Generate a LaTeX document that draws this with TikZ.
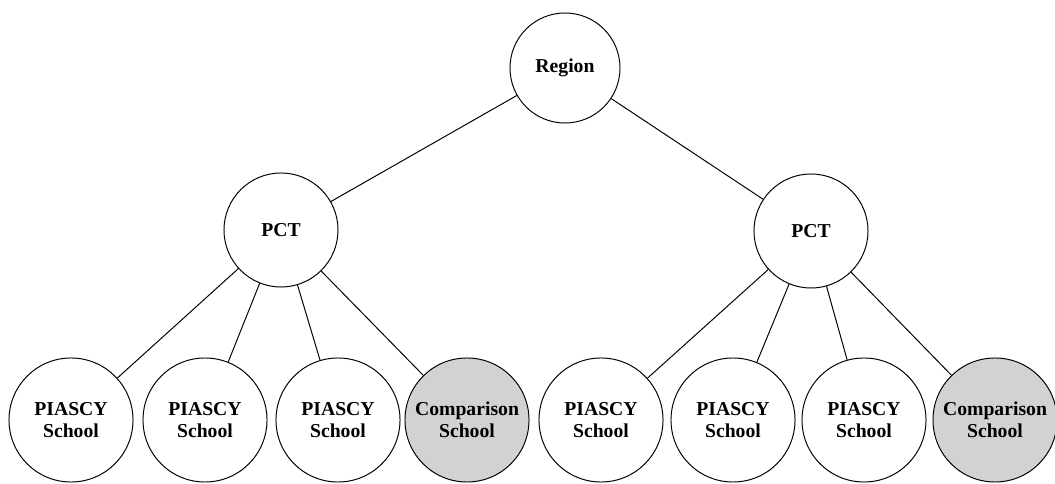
\documentclass[tikz,border=0pt]{standalone}
\usepackage{fontspec}
\setmainfont{Liberation Serif}
\usetikzlibrary{positioning}

\begin{document}
\begin{tikzpicture}[x=0.025cm, y=-0.025cm, line width=0.7pt,
  bubble/.style={draw, circle, inner sep=0pt, align=center, font=\bfseries\fontsize{14}{15.6}\selectfont},
  school/.style={bubble, minimum size=3.1cm},
  comparison/.style={school, fill=gray!35}]

\useasboundingbox (0,0) rectangle (1055,484);

% Draw the region and the PCTs
\node[bubble, minimum size=2.75cm] (region) at (565,68) {Region};
\node[bubble, minimum size=2.85cm] (pctL) at (281,230) {PCT};
\node[bubble, minimum size=2.85cm] (pctR) at (811,231) {PCT};

% Draw the schools
\foreach \x/\name in {71/s1, 205/s2, 338/s3, 601/s5, 733/s6, 864/s7}
{
  \node[school] (\name) at (\x,420) {PIASCY\\School};
}
\node[comparison] (s4) at (467,420) {Comparison\\School};
\node[comparison] (s8) at (995,420) {Comparison\\School};

% Draw the links
\draw (region) -- (pctL);
\draw (region) -- (pctR);
\foreach \i in {1,...,4}
{
  \draw (pctL) -- (s\i);
}
\foreach \i in {5,...,8}
{
  \draw (pctR) -- (s\i);
}

\end{tikzpicture}
\end{document}
